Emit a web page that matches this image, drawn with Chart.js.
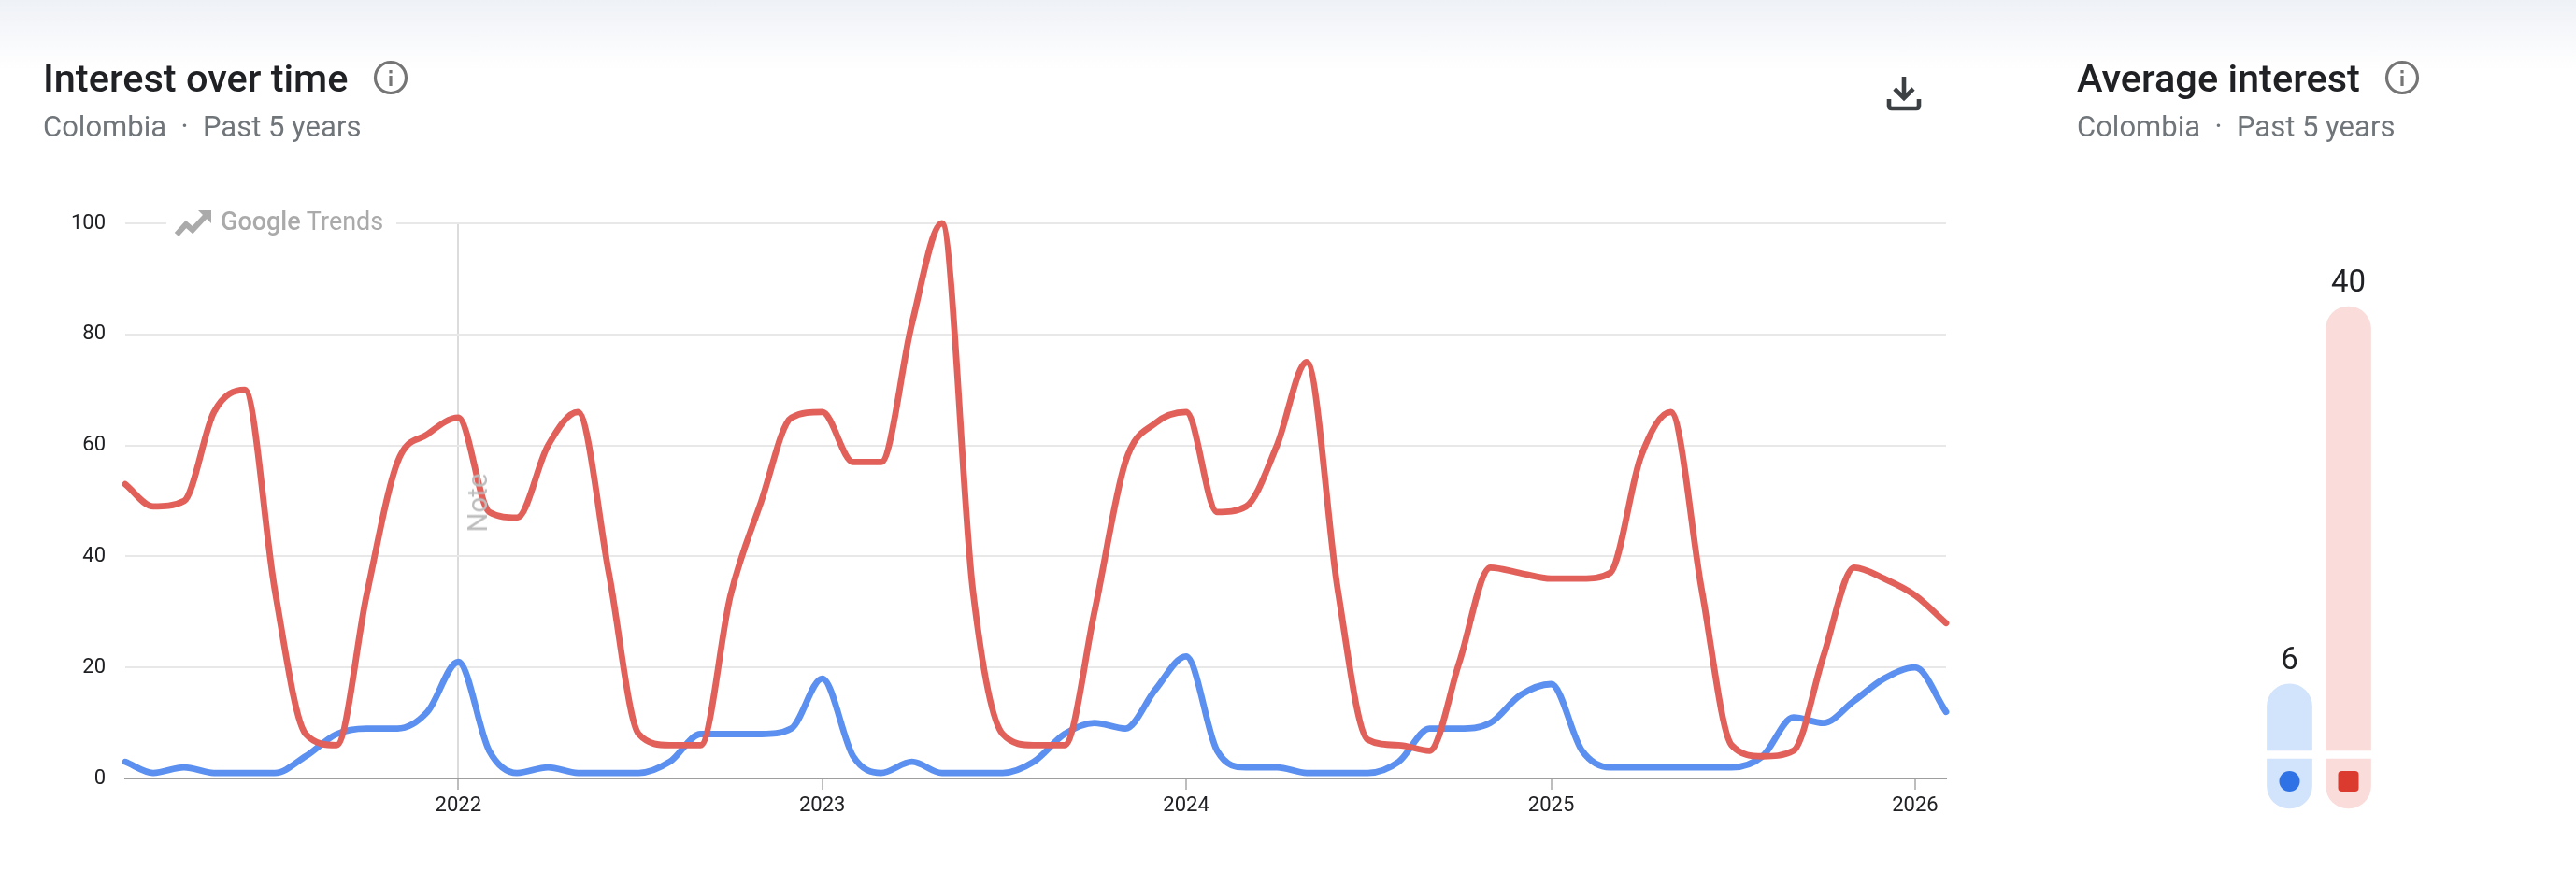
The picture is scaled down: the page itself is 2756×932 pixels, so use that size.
<!DOCTYPE html>
<html><head><meta charset="utf-8">
<script src="https://cdn.jsdelivr.net/npm/chart.js@4/dist/chart.umd.min.js"></script>
<style>
html,body{margin:0;padding:0;background:#fff;width:2756px;height:932px;overflow:hidden;font-family:Roboto,sans-serif}
#grad{position:absolute;left:0;top:0;width:2756px;height:74px;background:linear-gradient(#eef1f6,#ffffff)}
canvas{position:absolute;top:0}
.t{position:absolute;white-space:pre}
.title{font-size:41.5px;font-weight:500;color:#202124;top:61px;line-height:46px}
.sub{font-size:31px;color:#70757a;top:118px;line-height:36px}
#logoBox{position:absolute;left:178px;top:222px;width:246px;height:34px;background:#fff}
#logoTxt{position:absolute;left:236px;top:220px;font-size:27px;line-height:34px;color:#aaa;white-space:pre}
#note{position:absolute;left:511px;top:538px;transform:translate(-50%,-50%) rotate(-90deg);font-size:29.5px;color:#bdbdbd;line-height:30px}
svg{position:absolute}
</style></head><body>
<div id="grad"></div>
<canvas id="line" width="2200" height="932" style="left:0;width:2200px;height:932px"></canvas>
<canvas id="bars" width="556" height="932" style="left:2200px;width:556px;height:932px"></canvas>
<div class="t title" style="left:46px">Interest over time</div>
<div class="t sub" style="left:46px">Colombia  ·  Past 5 years</div>
<div class="t title" style="left:2222px">Average interest</div>
<div class="t sub" style="left:2222px">Colombia  ·  Past 5 years</div>
<svg style="left:398px;top:63px" width="40" height="40" viewBox="0 0 40 40"><circle cx="20" cy="20" r="16.5" fill="none" stroke="#757575" stroke-width="3.2"/><rect x="18.4" y="18" width="3.2" height="11" fill="#757575"/><rect x="18.4" y="12" width="3.2" height="3.4" fill="#757575"/></svg>
<svg style="left:2550px;top:63px" width="40" height="40" viewBox="0 0 40 40"><circle cx="20" cy="20" r="16.5" fill="none" stroke="#757575" stroke-width="3.2"/><rect x="18.4" y="18" width="3.2" height="11" fill="#757575"/><rect x="18.4" y="12" width="3.2" height="3.4" fill="#757575"/></svg>
<svg style="left:2015px;top:78px" width="44" height="44" viewBox="0 0 44 44" fill="none" stroke="#3c4043" stroke-width="4.6"><path d="M22 4V27M12 17L22 27L32 17"/><path d="M6 28V35Q6 38 9 38H35Q38 38 38 35V28"/></svg>
<div id="logoBox"></div>
<svg style="left:186px;top:222px" width="42" height="34" viewBox="0 0 42 34"><path d="M3 29L13 18L20 24L35 8" fill="none" stroke="#aaa" stroke-width="6"/><path d="M26 3H40V17Z" fill="#aaa"/></svg>
<div id="logoTxt"><span style="font-weight:500">Google</span> Trends</div>
<div id="note">Note</div>
<script>
const months = ["2021-02","2021-03","2021-04","2021-05","2021-06","2021-07","2021-08","2021-09","2021-10","2021-11","2021-12",
"2022-01","2022-02","2022-03","2022-04","2022-05","2022-06","2022-07","2022-08","2022-09","2022-10","2022-11","2022-12",
"2023-01","2023-02","2023-03","2023-04","2023-05","2023-06","2023-07","2023-08","2023-09","2023-10","2023-11","2023-12",
"2024-01","2024-02","2024-03","2024-04","2024-05","2024-06","2024-07","2024-08","2024-09","2024-10","2024-11","2024-12",
"2025-01","2025-02","2025-03","2025-04","2025-05","2025-06","2025-07","2025-08","2025-09","2025-10","2025-11","2025-12",
"2026-01","2026-02"];
const blueValues = [3,1,2,1,1,1,4,8,9,9,12,
21,5,1,2,1,1,1,3,8,8,8,9,
18,4,1,3,1,1,1,3,8,10,9,16,
22,5,2,2,1,1,1,3,9,9,10,15,
17,5,2,2,2,2,2,4,11,10,14,18,
20,12];
const redValues = [53,49,50,66,70,34,8,6,33,57,62,
65,48,47,60,66,37,8,6,6,33,50,65,
66,57,57,82,100,34,8,6,6,30,57,64,
66,48,49,60,75,34,7,6,5,21,38,37,
36,36,37,58,66,34,6,4,5,22,38,36,
33,28];
const yearTicks = [2022,2023,2024,2025,2026];
const yTicks = [0,20,40,60,80,100];
const barLabels = ["Blue","Red"];
const averages = [6,40];
const blueColor="#5b8ff0", redColor="#e2605a";
const t = m => Date.parse(m+"-01T00:00:00Z");
const toPts = v => v.map((y,i)=>({x:t(months[i]),y}));
new Chart(document.getElementById('line'),{
 type:'line',
 data:{datasets:[
  {label:'Blue',data:toPts(blueValues),borderColor:blueColor,borderWidth:6.8,pointRadius:0,cubicInterpolationMode:'monotone',order:2,borderCapStyle:'round',borderJoinStyle:'round'},
  {label:'Red',data:toPts(redValues),borderColor:redColor,borderWidth:6.8,pointRadius:0,cubicInterpolationMode:'monotone',order:1,borderCapStyle:'round',borderJoinStyle:'round'}
 ]},
 options:{responsive:false,animation:false,
  layout:{padding:{left:0,right:118,top:239,bottom:39}},
  plugins:{legend:{display:false},tooltip:{enabled:false},title:{display:false}},
  clip:false,
  scales:{
   x:{type:'linear',min:t(months[0]),max:t(months[months.length-1]),
     afterBuildTicks:s=>{s.ticks=yearTicks.map(y=>({value:Date.UTC(y,0,1)}))},
     afterFit:s=>{s.height=60},
     grid:{color:c=>c.tick&&c.tick.value===Date.UTC(2022,0,1)?'#dcdcdc':'rgba(0,0,0,0)',lineWidth:2,tickColor:'#bdbdbd',tickLength:12,drawTicks:true},
     border:{display:true,color:'#9e9e9e',width:2},
     ticks:{autoSkip:false,maxRotation:0,minRotation:0,padding:4,color:'#202124',font:{family:'Roboto',size:22},
       callback:v=>String(new Date(v).getUTCFullYear())}},
   y:{min:0,max:100,
     afterBuildTicks:s=>{s.ticks=yTicks.map(v=>({value:v}))},
     afterFit:s=>{s.width=134},
     grid:{color:'#e8e8e8',lineWidth:2,drawTicks:false},
     border:{display:false},
     ticks:{padding:21,color:'#202124',font:{family:'Roboto',size:22}}}
  }}
});
// bars
const capRange=[-5.22,-0.76];
const markers={id:'markers',afterDatasetsDraw(ch){
 const c=ch.ctx,meta=ch.getDatasetMeta(0),sy=ch.scales.y;
 c.save();
 meta.data.forEach((b,i)=>{
  c.fillStyle='#202124';c.font='33px Roboto';c.textAlign='center';c.textBaseline='middle';
  c.fillText(String(averages[i]),b.x,sy.getPixelForValue(averages[i])-24);
  const my=sy.getPixelForValue(-2.78);
  if(i===0){c.fillStyle='#2f72e6';c.beginPath();c.arc(b.x,my,11,0,Math.PI*2);c.fill();}
  else{c.fillStyle='#db3a2e';c.beginPath();c.roundRect(b.x-11,my-11,22,22,4);c.fill();}
 });
 c.restore();
}};
new Chart(document.getElementById('bars'),{
 type:'bar',
 data:{labels:barLabels,datasets:[
  {data:averages.map(v=>[0,v]),backgroundColor:['#d2e3fc','#fadcda'],barThickness:48,borderRadius:{topLeft:24,topRight:24,bottomLeft:0,bottomRight:0},borderSkipped:false},
  {data:averages.map(()=>capRange),backgroundColor:['#d2e3fc','#fadcda'],barThickness:48,borderRadius:{topLeft:0,topRight:0,bottomLeft:24,bottomRight:24},borderSkipped:false}
 ]},
 plugins:[markers],
 options:{responsive:false,animation:false,
  layout:{padding:{left:218,right:212,top:0,bottom:0}},
  plugins:{legend:{display:false},tooltip:{enabled:false}},
  scales:{
   x:{display:false,stacked:true,type:'category',offset:true},
   y:{display:false,min:-10.86,max:67.62}
  }}
});
</script>
</body></html>
